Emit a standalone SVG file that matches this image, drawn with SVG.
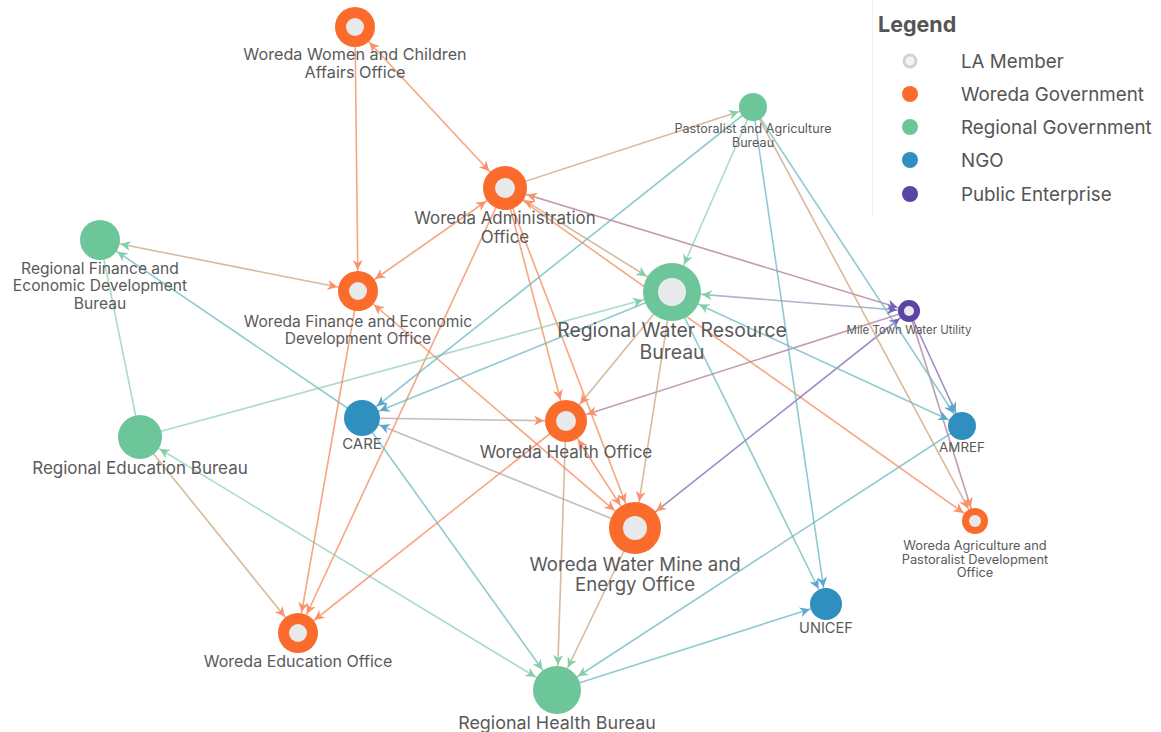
<svg xmlns="http://www.w3.org/2000/svg" xmlns:xlink="http://www.w3.org/1999/xlink" width="1161" height="732" viewBox="0 0 1161 732">
  <style>
    .lbl { font-family: "Inter", "Liberation Sans", sans-serif; fill: #5a5a5a; text-anchor: middle; }
    .e { fill: none; stroke-width: 1.6; stroke-opacity: 0.75; }
    .oo { stroke: #f6875a; }
    .og { stroke: #c9a37c; }
    .gg { stroke: #8ed2b0; }
    .gb { stroke: #6bb8c2; }
    .bb { stroke: #4d9fc6; }
    .bo { stroke: #b8a3a5; }
    .po { stroke: #b07896; }
    .pp { stroke: #7b68b3; }
    .pg { stroke: #8c9cb6; }
    .ring-o { fill: #fb6b2c; }
    .ring-g { fill: #6cc69a; }
    .ring-p { fill: #5a45a6; }
    .fill-g { fill: #6cc69a; }
    .fill-b { fill: #2f90c0; }
    .inner { fill: #e9e9eb; }
    .ah-o { fill: #f99268; }
    .ah-g { fill: #82cfa8; }
    .ah-b { fill: #5aa6cf; }
    .ah-p { fill: #7563bb; }
    .leg { font-family: "Inter", "Liberation Sans", sans-serif; fill: #555; }
    marker { overflow: visible; }
  </style>
  <defs>
    <path id="ah" d="M0,0 L-10,-5 L-7,0 L-10,5 Z"/>
    <!-- one marker per node: tip lands on the node rim -->
    <marker id="m-wwc" markerUnits="userSpaceOnUse" orient="auto-start-reverse" refX="21" refY="0" markerWidth="1" markerHeight="1"><use href="#ah" class="ah-o"/></marker>
    <marker id="m-wao" markerUnits="userSpaceOnUse" orient="auto-start-reverse" refX="23" refY="0" markerWidth="1" markerHeight="1"><use href="#ah" class="ah-o"/></marker>
    <marker id="m-pab" markerUnits="userSpaceOnUse" orient="auto-start-reverse" refX="15" refY="0" markerWidth="1" markerHeight="1"><use href="#ah" class="ah-g"/></marker>
    <marker id="m-rfed" markerUnits="userSpaceOnUse" orient="auto-start-reverse" refX="21" refY="0" markerWidth="1" markerHeight="1"><use href="#ah" class="ah-g"/></marker>
    <marker id="m-wfed" markerUnits="userSpaceOnUse" orient="auto-start-reverse" refX="21" refY="0" markerWidth="1" markerHeight="1"><use href="#ah" class="ah-o"/></marker>
    <marker id="m-rwrb" markerUnits="userSpaceOnUse" orient="auto-start-reverse" refX="30" refY="0" markerWidth="1" markerHeight="1"><use href="#ah" class="ah-g"/></marker>
    <marker id="m-mtwu" markerUnits="userSpaceOnUse" orient="auto-start-reverse" refX="12" refY="0" markerWidth="1" markerHeight="1"><use href="#ah" class="ah-p"/></marker>
    <marker id="m-care" markerUnits="userSpaceOnUse" orient="auto-start-reverse" refX="19" refY="0" markerWidth="1" markerHeight="1"><use href="#ah" class="ah-b"/></marker>
    <marker id="m-who" markerUnits="userSpaceOnUse" orient="auto-start-reverse" refX="22" refY="0" markerWidth="1" markerHeight="1"><use href="#ah" class="ah-o"/></marker>
    <marker id="m-reb" markerUnits="userSpaceOnUse" orient="auto-start-reverse" refX="23" refY="0" markerWidth="1" markerHeight="1"><use href="#ah" class="ah-g"/></marker>
    <marker id="m-amref" markerUnits="userSpaceOnUse" orient="auto-start-reverse" refX="15" refY="0" markerWidth="1" markerHeight="1"><use href="#ah" class="ah-b"/></marker>
    <marker id="m-wwme" markerUnits="userSpaceOnUse" orient="auto-start-reverse" refX="27" refY="0" markerWidth="1" markerHeight="1"><use href="#ah" class="ah-o"/></marker>
    <marker id="m-wapd" markerUnits="userSpaceOnUse" orient="auto-start-reverse" refX="14" refY="0" markerWidth="1" markerHeight="1"><use href="#ah" class="ah-o"/></marker>
    <marker id="m-unicef" markerUnits="userSpaceOnUse" orient="auto-start-reverse" refX="17" refY="0" markerWidth="1" markerHeight="1"><use href="#ah" class="ah-b"/></marker>
    <marker id="m-weo" markerUnits="userSpaceOnUse" orient="auto-start-reverse" refX="21" refY="0" markerWidth="1" markerHeight="1"><use href="#ah" class="ah-o"/></marker>
    <marker id="m-rhb" markerUnits="userSpaceOnUse" orient="auto-start-reverse" refX="25" refY="0" markerWidth="1" markerHeight="1"><use href="#ah" class="ah-g"/></marker>
  </defs>

  <rect width="1161" height="732" fill="#ffffff"/>

  <!-- connectors (drawn centre to centre, hidden under the nodes) -->
  <g id="connectors">
    <line class="e oo" x1="355" y1="27" x2="505" y2="188" marker-start="url(#m-wwc)" marker-end="url(#m-wao)"/>
    <line class="e oo" x1="355" y1="27" x2="358" y2="291" marker-end="url(#m-wfed)"/>
    <line class="e og" x1="505" y1="188" x2="753" y2="107" marker-end="url(#m-pab)"/>
    <line class="e po" x1="505" y1="188" x2="909" y2="311" marker-start="url(#m-wao)" marker-end="url(#m-mtwu)"/>
    <line class="e oo" x1="505" y1="188" x2="975" y2="521" marker-end="url(#m-wapd)"/>
    <line class="e oo" x1="358" y1="291" x2="505" y2="188" marker-start="url(#m-wfed)" marker-end="url(#m-wao)"/>
    <line class="e oo" x1="505" y1="188" x2="298" y2="633" marker-end="url(#m-weo)"/>
    <line class="e oo" x1="505" y1="188" x2="566" y2="421" marker-end="url(#m-who)"/>
    <line class="e oo" x1="505" y1="188" x2="635" y2="528" marker-end="url(#m-wwme)"/>
    <line class="e og" x1="672" y1="292" x2="505" y2="188" marker-start="url(#m-rwrb)" marker-end="url(#m-wao)"/>
    <line class="e og" x1="358" y1="291" x2="100" y2="240" marker-start="url(#m-wfed)" marker-end="url(#m-rfed)"/>
    <line class="e gb" x1="362" y1="418" x2="100" y2="240" marker-end="url(#m-rfed)"/>
    <line class="e gg" x1="100" y1="240" x2="140" y2="437"/>
    <line class="e gg" x1="140" y1="437" x2="672" y2="292" marker-end="url(#m-rwrb)"/>
    <line class="e og" x1="140" y1="437" x2="298" y2="633" marker-end="url(#m-weo)"/>
    <line class="e gg" x1="140" y1="437" x2="557" y2="690" marker-start="url(#m-reb)" marker-end="url(#m-rhb)"/>
    <line class="e oo" x1="358" y1="291" x2="298" y2="633" marker-end="url(#m-weo)"/>
    <line class="e oo" x1="358" y1="291" x2="635" y2="528" marker-start="url(#m-wfed)" marker-end="url(#m-wwme)"/>
    <line class="e bo" x1="362" y1="418" x2="566" y2="421" marker-end="url(#m-who)"/>
    <line class="e gb" x1="672" y1="292" x2="362" y2="418" marker-end="url(#m-care)"/>
    <line class="e gb" x1="362" y1="418" x2="557" y2="690" marker-end="url(#m-rhb)"/>
    <line class="e bo" x1="635" y1="528" x2="362" y2="418" marker-end="url(#m-care)"/>
    <line class="e po" x1="909" y1="311" x2="566" y2="421" marker-end="url(#m-who)"/>
    <line class="e pp" x1="909" y1="311" x2="635" y2="528" marker-start="url(#m-mtwu)" marker-end="url(#m-wwme)"/>
    <line class="e pp" x1="909" y1="311" x2="962" y2="426" marker-end="url(#m-amref)"/>
    <line class="e po" x1="909" y1="311" x2="975" y2="521" marker-end="url(#m-wapd)"/>
    <line class="e gb" x1="962" y1="426" x2="672" y2="292" marker-start="url(#m-amref)" marker-end="url(#m-rwrb)"/>
    <line class="e gb" x1="962" y1="426" x2="557" y2="690" marker-end="url(#m-rhb)"/>
    <line class="e gb" x1="672" y1="292" x2="826" y2="604" marker-end="url(#m-unicef)"/>
    <line class="e gb" x1="753" y1="107" x2="826" y2="604" marker-end="url(#m-unicef)"/>
    <line class="e gb" x1="557" y1="690" x2="826" y2="604" marker-end="url(#m-unicef)"/>
    <line class="e og" x1="566" y1="421" x2="557" y2="690" marker-end="url(#m-rhb)"/>
    <line class="e og" x1="635" y1="528" x2="557" y2="690" marker-end="url(#m-rhb)"/>
    <line class="e oo" x1="566" y1="421" x2="298" y2="633" marker-end="url(#m-weo)"/>
    <line class="e oo" x1="566" y1="421" x2="635" y2="528" marker-start="url(#m-who)" marker-end="url(#m-wwme)"/>
    <line class="e og" x1="672" y1="292" x2="566" y2="421" marker-end="url(#m-who)"/>
    <line class="e og" x1="672" y1="292" x2="635" y2="528" marker-end="url(#m-wwme)"/>
    <line class="e gb" x1="753" y1="107" x2="362" y2="418" marker-end="url(#m-care)"/>
    <line class="e gg" x1="753" y1="107" x2="672" y2="292" marker-end="url(#m-rwrb)"/>
    <line class="e gb" x1="753" y1="107" x2="962" y2="426" marker-end="url(#m-amref)"/>
    <line class="e og" x1="753" y1="107" x2="975" y2="521" marker-end="url(#m-wapd)"/>
    <line class="e pg" x1="672" y1="292" x2="909" y2="311" marker-start="url(#m-rwrb)" marker-end="url(#m-mtwu)"/>
  </g>

  <!-- nodes -->
  <g id="node-wwc">
    <circle cx="355" cy="27" r="20" class="ring-o"/><circle cx="355" cy="27" r="9" class="inner"/>
    <text class="lbl" x="355" y="60" font-size="16.2">Woreda Women and Children</text>
    <text class="lbl" x="355" y="78" font-size="16.2">Affairs Office</text>
  </g>
  <g id="node-wao">
    <circle cx="505" cy="188" r="22" class="ring-o"/><circle cx="505" cy="188" r="10" class="inner"/>
    <text class="lbl" x="505" y="224" font-size="16.9">Woreda Administration</text>
    <text class="lbl" x="505" y="243" font-size="16.9">Office</text>
  </g>
  <g id="node-pab">
    <circle cx="753" cy="107" r="14" class="fill-g"/>
    <text class="lbl" x="753" y="132.5" font-size="12.6">Pastoralist and Agriculture</text>
    <text class="lbl" x="753" y="146.5" font-size="12.6">Bureau</text>
  </g>
  <g id="node-rfed">
    <circle cx="100" cy="240" r="20" class="fill-g"/>
    <text class="lbl" x="100" y="273.5" font-size="15.6">Regional Finance and</text>
    <text class="lbl" x="100" y="291" font-size="15.6">Economic Development</text>
    <text class="lbl" x="100" y="308.5" font-size="15.6">Bureau</text>
  </g>
  <g id="node-wfed">
    <circle cx="358" cy="291" r="20" class="ring-o"/><circle cx="358" cy="291" r="9" class="inner"/>
    <text class="lbl" x="358" y="326.5" font-size="15.6">Woreda Finance and Economic</text>
    <text class="lbl" x="358" y="344" font-size="15.6">Development Office</text>
  </g>
  <g id="node-rwrb">
    <circle cx="672" cy="292" r="29" class="ring-g"/><circle cx="672" cy="292" r="14" class="inner"/>
    <text class="lbl" x="672" y="337" font-size="19.4">Regional Water Resource</text>
    <text class="lbl" x="672" y="359" font-size="19.4">Bureau</text>
  </g>
  <g id="node-mtwu">
    <circle cx="909" cy="311" r="11" class="ring-p"/><circle cx="909" cy="311" r="5" class="inner"/>
    <text class="lbl" x="909" y="334" font-size="11.5">Mile Town Water Utility</text>
  </g>
  <g id="node-care">
    <circle cx="362" cy="418" r="18" class="fill-b"/>
    <text class="lbl" x="362" y="449" font-size="15">CARE</text>
  </g>
  <g id="node-who">
    <circle cx="566" cy="421" r="21" class="ring-o"/><circle cx="566" cy="421" r="10" class="inner"/>
    <text class="lbl" x="566" y="458" font-size="17">Woreda Health Office</text>
  </g>
  <g id="node-reb">
    <circle cx="140" cy="437" r="22" class="fill-g"/>
    <text class="lbl" x="140" y="474" font-size="17">Regional Education Bureau</text>
  </g>
  <g id="node-amref">
    <circle cx="962" cy="426" r="14" class="fill-b"/>
    <text class="lbl" x="962" y="452" font-size="13.4">AMREF</text>
  </g>
  <g id="node-wwme">
    <circle cx="635" cy="528" r="26" class="ring-o"/><circle cx="635" cy="528" r="12" class="inner"/>
    <text class="lbl" x="635" y="570.5" font-size="18.6">Woreda Water Mine and</text>
    <text class="lbl" x="635" y="590.5" font-size="18.6">Energy Office</text>
  </g>
  <g id="node-wapd">
    <circle cx="975" cy="521" r="13" class="ring-o"/><circle cx="975" cy="521" r="6" class="inner"/>
    <text class="lbl" x="975" y="549.5" font-size="12.8">Woreda Agriculture and</text>
    <text class="lbl" x="975" y="563.5" font-size="12.8">Pastoralist Development</text>
    <text class="lbl" x="975" y="577" font-size="12.8">Office</text>
  </g>
  <g id="node-unicef">
    <circle cx="826" cy="604" r="16" class="fill-b"/>
    <text class="lbl" x="826" y="633" font-size="14.6">UNICEF</text>
  </g>
  <g id="node-weo">
    <circle cx="298" cy="633" r="20" class="ring-o"/><circle cx="298" cy="633" r="9" class="inner"/>
    <text class="lbl" x="298" y="667" font-size="16">Woreda Education Office</text>
  </g>
  <g id="node-rhb">
    <circle cx="557" cy="690" r="24" class="fill-g"/>
    <text class="lbl" x="557" y="728.5" font-size="17.9">Regional Health Bureau</text>
  </g>

  <!-- legend -->
  <g id="legend">
    <line x1="872.5" y1="0" x2="872.5" y2="218" stroke="#f2f2f2" stroke-width="1"/>
    <text x="878" y="32" class="leg" font-size="21.5" font-weight="bold" fill="#4d4d4d">Legend</text>
    <circle cx="910" cy="61" r="6" fill="#f4f4f4" stroke="#d2d2d2" stroke-width="3"/>
    <circle cx="910" cy="94" r="8" fill="#fb6b2c"/>
    <circle cx="910" cy="127" r="8" fill="#6cc69a"/>
    <circle cx="910" cy="160" r="8" fill="#2f90c0"/>
    <circle cx="910" cy="194" r="8" fill="#5a45a6"/>
    <g class="leg" font-size="18.8">
      <text x="961" y="67.5">LA Member</text>
      <text x="961" y="100.5">Woreda Government</text>
      <text x="961" y="133.5">Regional Government</text>
      <text x="961" y="166.5">NGO</text>
      <text x="961" y="200.5">Public Enterprise</text>
    </g>
  </g>
</svg>
